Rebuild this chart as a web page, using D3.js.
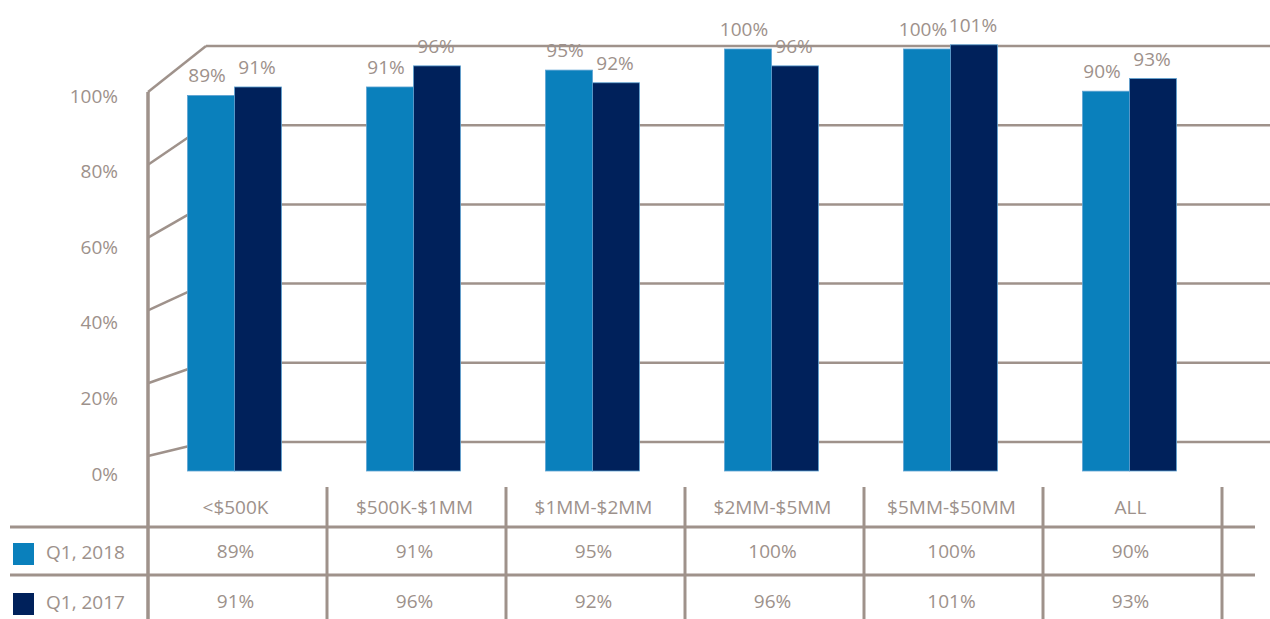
<!DOCTYPE html>
<html>
<head>
<meta charset="utf-8">
<script src="https://cdn.jsdelivr.net/npm/d3@7"></script>
<style>
  html, body { margin: 0; padding: 0; background: #ffffff; }
  svg { display: block; }
  text { font-family: "Open Sans", "Noto Sans", sans-serif; fill: #9d918b; }
</style>
</head>
<body>
<svg id="chart" width="1270" height="619"></svg>
<script>
// Segments by deal size
const categories = ["<$500K", "$500K-$1MM", "$1MM-$2MM", "$2MM-$5MM", "$5MM-$50MM", "ALL"];
const seriesNames = ["Q1, 2018", "Q1, 2017"];
const q1_2018 = [89, 91, 95, 100, 100, 90];
const q1_2017 = [91, 96, 92, 96, 101, 93];
const yTicks = [0, 20, 40, 60, 80, 100];

const seriesValues = [q1_2018, q1_2017];
const colors = ["#0a80bc", "#00215b"];
const lineColor = "#9f928b";
const fontSize = 19;

const svg = d3.select("#chart");
const W = 1270, H = 619;

// Horizontal band for each category (also the table columns)
const x = d3.scaleBand().domain(categories).range([148, 1222]);
const groupW = 94;
const x1 = d3.scaleBand().domain(seriesNames)
  .range([(x.bandwidth() - groupW) / 2 - 3, (x.bandwidth() + groupW) / 2 - 3]);

// Bars, front wall edge, back wall and tick label positions
const yBar = d3.scaleLinear().domain([0, 100]).range([471, 49]);
const yFront = d3.scaleLinear().domain([0, 100]).range([456, 92]);
const yBack = d3.scaleLinear().domain([0, 100]).range([442, 46]);
const yLabel = d3.scaleLinear().domain([0, 100]).range([474, 96]);
const frontX = 148, backX = 206;

const grid = svg.append("g")
  .attr("stroke", lineColor).attr("stroke-width", 2.5).attr("fill", "none");

// Side wall: lines receding from the front edge to the back wall
grid.selectAll("line.side").data(yTicks).join("line")
  .attr("class", "side")
  .attr("x1", frontX).attr("y1", d => yFront(d))
  .attr("x2", backX).attr("y2", d => yBack(d));

// Back wall gridlines
grid.selectAll("line.back").data(yTicks).join("line")
  .attr("class", "back")
  .attr("x1", backX).attr("y1", d => yBack(d))
  .attr("x2", W).attr("y2", d => yBack(d));

// Front vertical edge, continuing down through the table
svg.append("line")
  .attr("x1", frontX).attr("x2", frontX)
  .attr("y1", yFront(100)).attr("y2", H)
  .attr("stroke", lineColor).attr("stroke-width", 3.5);

// Value axis labels
svg.append("g").selectAll("text").data(yTicks).join("text")
  .attr("x", 118).attr("y", d => yLabel(d))
  .attr("dy", "0.35em")
  .attr("text-anchor", "end")
  .attr("font-size", fontSize)
  .text(d => d + "%");

// Bars
const groups = svg.append("g").selectAll("g").data(categories).join("g")
  .attr("transform", d => `translate(${x(d)},0)`);

groups.selectAll("rect")
  .data((c, i) => seriesNames.map((s, k) => ({ s, k, v: seriesValues[k][i] })))
  .join("rect")
  .attr("x", d => x1(d.s))
  .attr("width", x1.bandwidth())
  .attr("y", d => yBar(d.v))
  .attr("height", d => yBar(0) - yBar(d.v))
  .attr("fill", d => colors[d.k])
  .attr("stroke", "#5fa3d3")
  .attr("stroke-width", 0.8);

// Value labels above bars
groups.selectAll("text")
  .data((c, i) => seriesNames.map((s, k) => ({ s, k, v: seriesValues[k][i] })))
  .join("text")
  .attr("x", d => x1(d.s) + x1.bandwidth() / 2 + (d.k === 0 ? -4 : -1))
  .attr("y", d => yBar(d.v) - 13)
  .attr("text-anchor", "middle")
  .attr("font-size", fontSize)
  .text(d => d.v + "%");

// Data table: category headers
svg.append("g").selectAll("text").data(categories).join("text")
  .attr("x", d => x(d) + x.bandwidth() / 2 - 2)
  .attr("y", 507).attr("dy", "0.35em")
  .attr("text-anchor", "middle")
  .attr("font-size", fontSize)
  .text(d => d);

// Table rules
const table = svg.append("g").attr("stroke", lineColor).attr("stroke-width", 3);
table.selectAll("line.row").data([527, 575]).join("line")
  .attr("class", "row")
  .attr("x1", 10).attr("x2", 1255)
  .attr("y1", d => d).attr("y2", d => d);
table.selectAll("line.col").data(categories).join("line")
  .attr("class", "col")
  .attr("x1", d => x(d) + x.bandwidth()).attr("x2", d => x(d) + x.bandwidth())
  .attr("y1", 487).attr("y2", H);

// Table rows: legend swatch, series name, values
const rowY = [552, 602];
const rows = svg.append("g").selectAll("g").data(seriesNames).join("g");
rows.append("rect")
  .attr("x", 13).attr("width", 21)
  .attr("y", (d, k) => rowY[k] - 9).attr("height", 22)
  .attr("fill", (d, k) => colors[k]);
rows.append("text")
  .attr("x", 46).attr("y", (d, k) => rowY[k]).attr("dy", "0.35em")
  .attr("font-size", fontSize)
  .text(d => d);
rows.selectAll("text.val")
  .data((s, k) => categories.map((c, i) => ({ c, k, v: seriesValues[k][i] })))
  .join("text")
  .attr("class", "val")
  .attr("x", d => x(d.c) + x.bandwidth() / 2 - 2)
  .attr("y", d => rowY[d.k] - 1).attr("dy", "0.35em")
  .attr("text-anchor", "middle")
  .attr("font-size", fontSize)
  .text(d => d.v + "%");
</script>
</body>
</html>
